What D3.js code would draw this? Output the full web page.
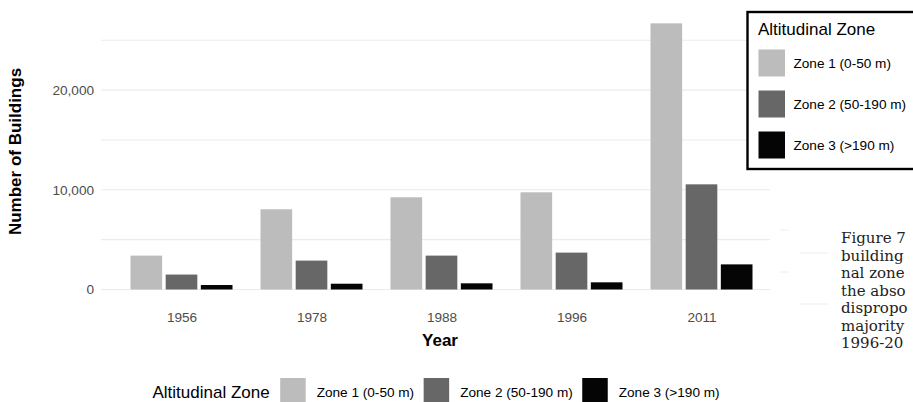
<!DOCTYPE html>
<html>
<head>
<meta charset="utf-8">
<script src="https://cdn.jsdelivr.net/npm/d3@7"></script>
<style>
  body { margin: 0; background: #fff; }
  svg { display: block; }
  .axis-text { font-family: "Liberation Sans", Arial, sans-serif; font-size: 13.6px; fill: #4d4d4d; }
  .axis-title { font-family: "Liberation Sans", Arial, sans-serif; font-size: 17px; font-weight: bold; fill: #000; }
  .leg-title { font-family: "Liberation Sans", Arial, sans-serif; font-size: 17px; fill: #000; }
  .leg-label { font-family: "Liberation Sans", Arial, sans-serif; font-size: 13.6px; fill: #000; }
  .caption { font-family: "DejaVu Serif", serif; font-size: 15px; fill: #222; }
</style>
</head>
<body>
<div id="chart"></div>
<script>
// data
var years = ["1956", "1978", "1988", "1996", "2011"];
var zones = ["Zone 1 (0-50 m)", "Zone 2 (50-190 m)", "Zone 3 (>190 m)"];
var zone1 = [3400, 8050, 9250, 9750, 26700];
var zone2 = [1500, 2900, 3400, 3700, 10550];
var zone3 = [450, 580, 620, 720, 2520];
var zoneColors = ["#bcbcbc", "#676767", "#050505"];
var majorTicks = [0, 10000, 20000];
var minorTicks = [5000, 15000, 25000];
// only the part of the caption that shows inside the crop
var captionLines = ["Figure 7", "building", "nal zone", "the abso", "dispropo", "majority", "1996-20"];

var W = 913, H = 402;
var svg = d3.select("#chart").append("svg")
    .attr("width", W)
    .attr("height", H);

// scales
var x0 = d3.scalePoint()
    .domain(years)
    .range([181.5, 701.5]);

var x1 = d3.scaleBand()
    .domain(zones)
    .range([-51, 51])
    .paddingInner(0.1);

var y = d3.scaleLinear()
    .domain([0, 25000])
    .range([289.5, 40.3]);

var color = d3.scaleOrdinal().domain(zones).range(zoneColors);

var series = [zone1, zone2, zone3];
var rows = [];
years.forEach(function(yr, i) {
    zones.forEach(function(z, j) {
        rows.push({ year: yr, zone: z, value: series[j][i] });
    });
});

// grid
var gridLeft = 101, gridRight = 770;
svg.append("g").selectAll("line")
    .data(minorTicks.concat(majorTicks))
    .enter().append("line")
    .attr("x1", gridLeft)
    .attr("x2", gridRight)
    .attr("y1", function(d) { return y(d); })
    .attr("y2", function(d) { return y(d); })
    .attr("stroke", "#ebebeb")
    .attr("stroke-width", 1.1);

// faint stray lines at right side of the crop
var strays = [[800, 828, 253], [800, 828, 304], [780, 789, 230], [780, 789, 272]];
svg.append("g").selectAll("line")
    .data(strays)
    .enter().append("line")
    .attr("x1", function(d) { return d[0]; })
    .attr("x2", function(d) { return d[1]; })
    .attr("y1", function(d) { return d[2]; })
    .attr("y2", function(d) { return d[2]; })
    .attr("stroke", "#eeeeee")
    .attr("stroke-width", 1);

// bars
svg.append("g").selectAll("rect")
    .data(rows)
    .enter().append("rect")
    .attr("x", function(d) { return x0(d.year) + x1(d.zone); })
    .attr("y", function(d) { return y(d.value); })
    .attr("width", x1.bandwidth())
    .attr("height", function(d) { return y(0) - y(d.value); })
    .attr("fill", function(d) { return color(d.zone); });

// y axis labels
var yAxis = d3.axisLeft(y).tickValues(majorTicks).tickFormat(d3.format(",")).tickSize(0).tickPadding(0);
var gy = svg.append("g")
    .attr("transform", "translate(94,0)")
    .call(yAxis);
gy.select(".domain").remove();
gy.selectAll("text").attr("class", "axis-text").attr("font-family", null).attr("font-size", null).attr("fill", null);

// x axis labels
var xAxis = d3.axisBottom(x0).tickSize(0).tickPadding(0);
var gx = svg.append("g")
    .attr("transform", "translate(0,312)")
    .call(xAxis);
gx.select(".domain").remove();
gx.selectAll("text").attr("class", "axis-text").attr("font-family", null).attr("font-size", null).attr("fill", null)
    .attr("dy", "0.71em");

// axis titles
svg.append("text")
    .attr("class", "axis-title")
    .attr("x", 440)
    .attr("y", 346)
    .attr("text-anchor", "middle")
    .text("Year");

svg.append("text")
    .attr("class", "axis-title")
    .attr("transform", "translate(21,151.5) rotate(-90)")
    .attr("text-anchor", "middle")
    .text("Number of Buildings");

// top-right legend
var leg = svg.append("g");
leg.append("rect")
    .attr("x", 747.5)
    .attr("y", 12)
    .attr("width", 200)
    .attr("height", 157)
    .attr("fill", "#fff")
    .attr("stroke", "#000")
    .attr("stroke-width", 2.4);
leg.append("text")
    .attr("class", "leg-title")
    .attr("x", 758)
    .attr("y", 35)
    .text("Altitudinal Zone");
var items = leg.selectAll(".item")
    .data(zones)
    .enter().append("g")
    .attr("class", "item")
    .attr("transform", function(d, i) { return "translate(0," + (i * 41) + ")"; });
items.append("rect")
    .attr("x", 758.5)
    .attr("y", 49.5)
    .attr("width", 26.5)
    .attr("height", 27)
    .attr("fill", function(d) { return color(d); });
items.append("text")
    .attr("class", "leg-label")
    .attr("x", 793.5)
    .attr("y", 68)
    .text(function(d) { return d; });

// bottom legend
var bl = svg.append("g");
var t = bl.append("text")
    .attr("class", "leg-title")
    .attr("x", 152.5)
    .attr("y", 398)
    .text("Altitudinal Zone");
var cx = 152.5 + t.node().getComputedTextLength() + 10.5;
zones.forEach(function(z, i) {
    bl.append("rect")
        .attr("x", cx)
        .attr("y", 378)
        .attr("width", 25.5)
        .attr("height", 27)
        .attr("fill", color(z));
    var lab = bl.append("text")
        .attr("class", "leg-label")
        .attr("x", cx + 36.5)
        .attr("y", 397)
        .text(z);
    cx = cx + 36.5 + lab.node().getComputedTextLength() + 9.5;
});

// caption fragment at the right edge
svg.append("g").selectAll("text")
    .data(captionLines)
    .enter().append("text")
    .attr("class", "caption")
    .attr("x", 841)
    .attr("y", function(d, i) { return 243 + i * 17.5; })
    .text(function(d) { return d; });
</script>
</body>
</html>
